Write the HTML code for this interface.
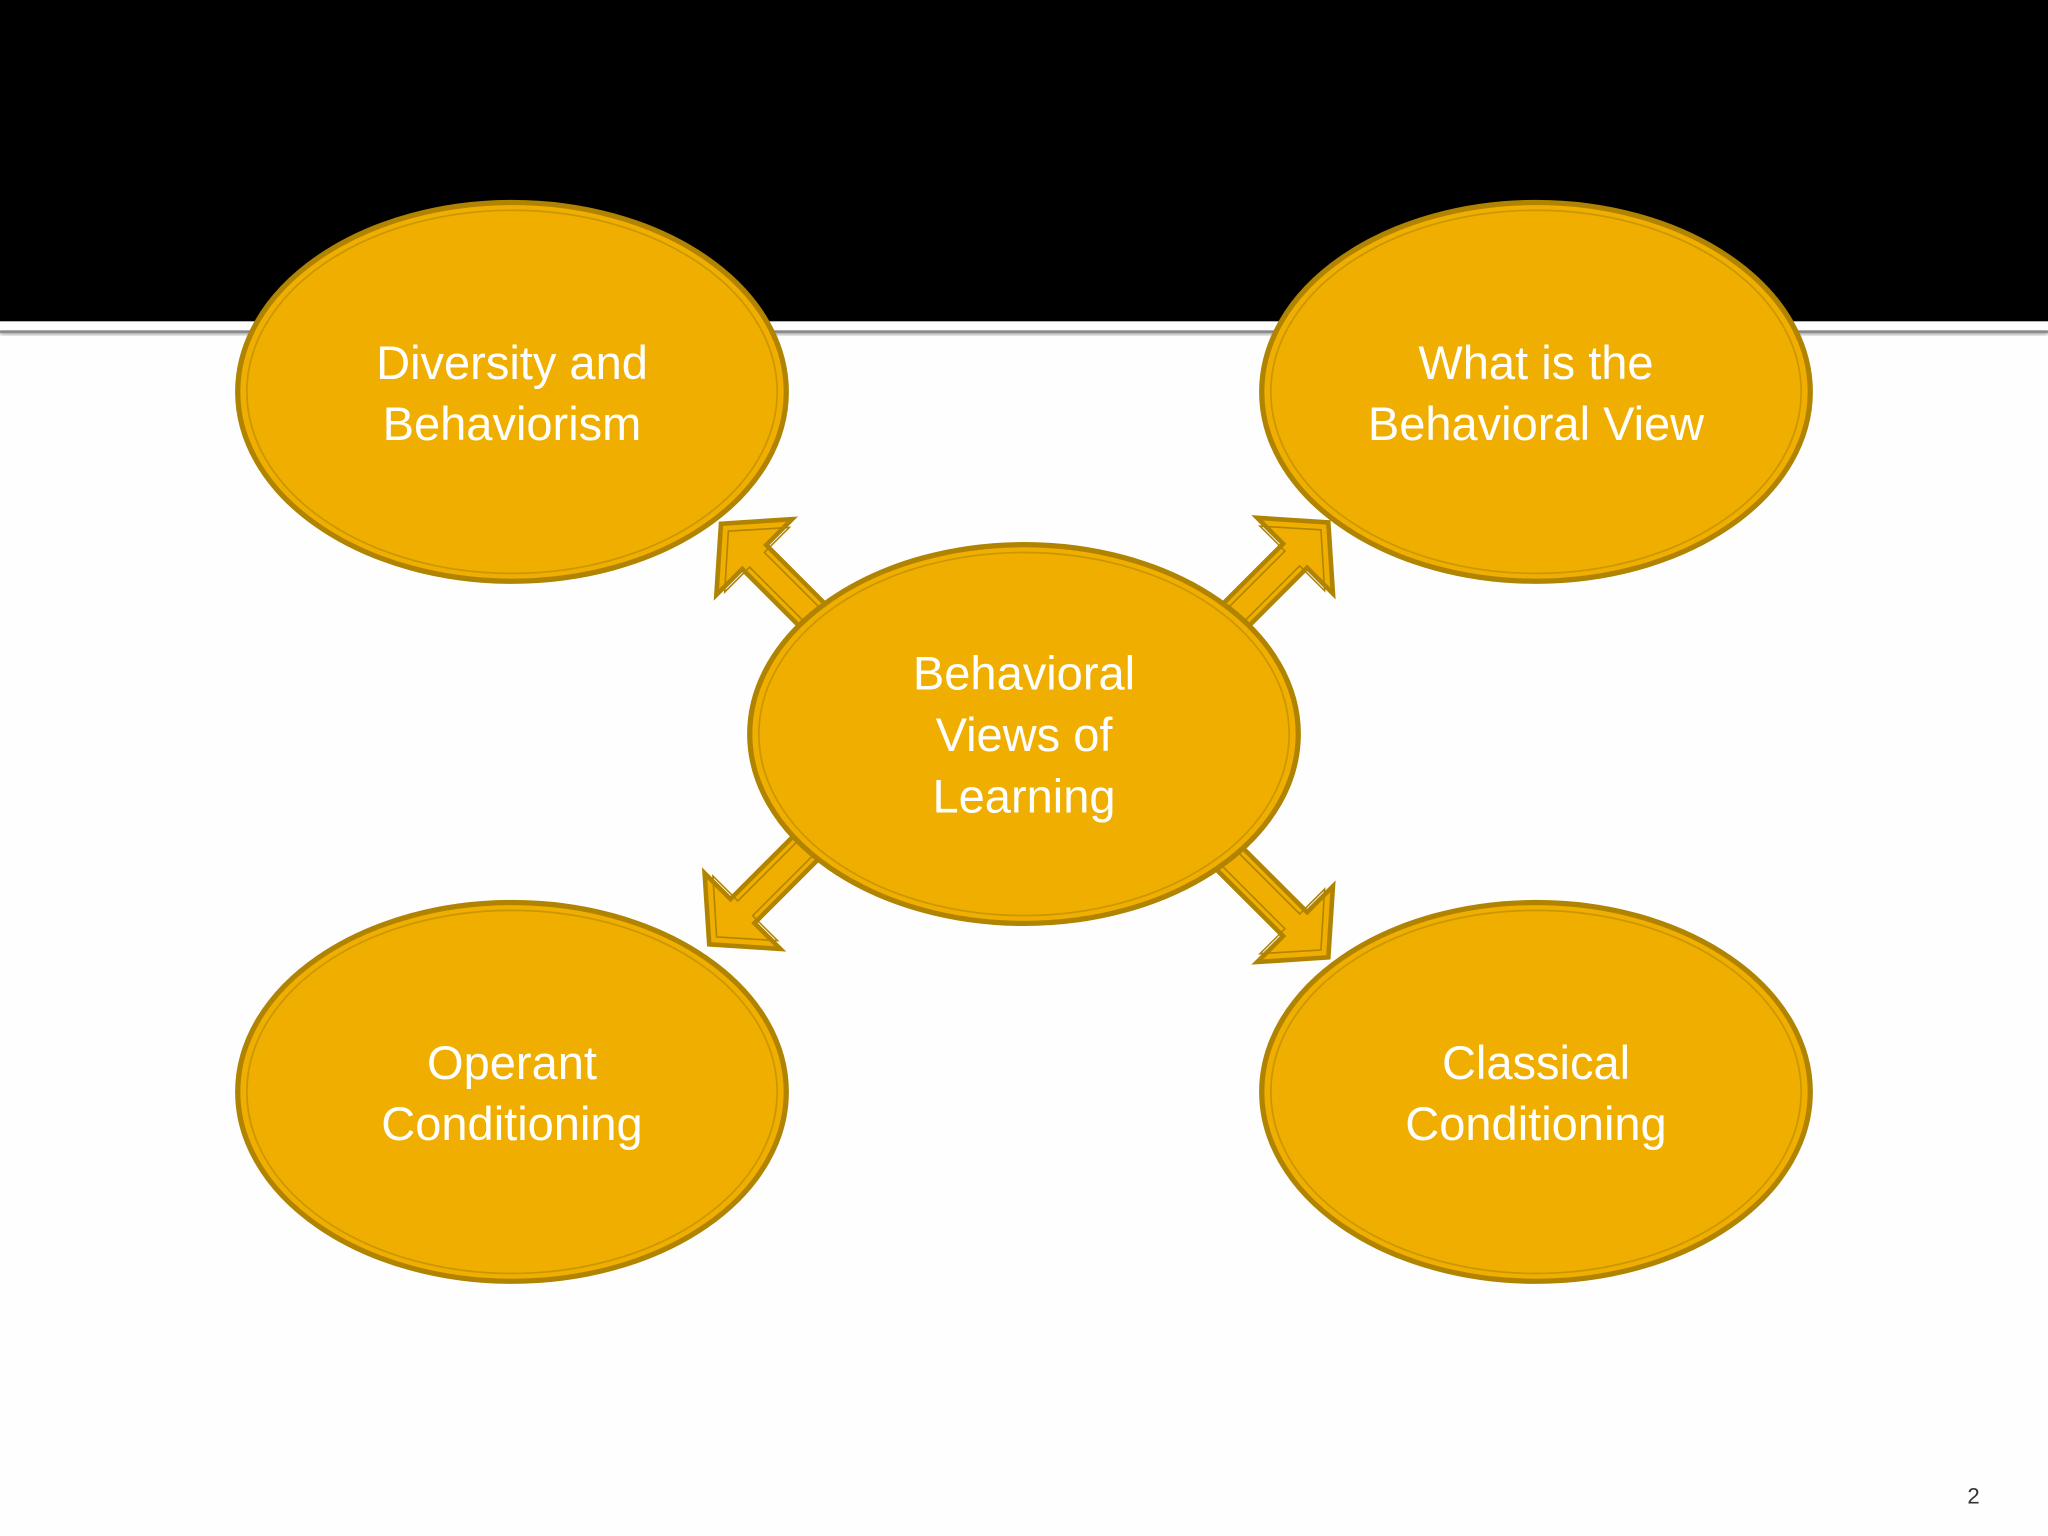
<!DOCTYPE html>
<html><head><meta charset="utf-8"><style>
html,body{margin:0;padding:0;background:#fff;}
svg{display:block;}
text{font-family:"Liberation Sans",sans-serif;fill:#fff;text-anchor:middle;}
</style></head><body>
<svg width="2048" height="1536" viewBox="0 0 1568 1176" xmlns="http://www.w3.org/2000/svg">
<defs>
<filter id="sh" x="-10%" y="-10%" width="120%" height="140%"><feGaussianBlur stdDeviation="1.5"/></filter>
<g id="arr">
<polygon points="0,0 36,41 36,13 130,13 130,-13 36,-13 36,-41" transform="rotate(-45)" fill="#EFAE00" stroke="#B08300" stroke-width="3.5" stroke-linejoin="miter"/>
<polygon points="8,0 39,35 39,8 130,8 130,-8 39,-8 39,-35" transform="rotate(-45)" fill="none" stroke="#B08300" stroke-width="1.2"/>
</g>
<g id="ell">
<ellipse cx="0" cy="0" rx="210" ry="145" fill="#EFAE00" stroke="#B08300" stroke-width="4"/>
<ellipse cx="0" cy="0" rx="203" ry="139" fill="none" stroke="#C99700" stroke-width="1.3"/>
</g>
</defs>
<rect x="0" y="0" width="1568" height="1176" fill="#fefefe"/>
<rect x="0" y="0" width="1568" height="246" fill="#000"/>
<rect x="0" y="253" width="1568" height="3" fill="#999" filter="url(#sh)"/>
<rect x="0" y="253" width="1568" height="2" fill="#8c8c8c"/>

<!-- arrows: local +x (after -45) points ... use transforms -->
<g transform="translate(552,401) rotate(90)"><use href="#arr" transform="rotate(-45) rotate(45) rotate(0)"/></g>

<g transform="translate(1017,400) rotate(180)"><use href="#arr"/></g>
<g transform="translate(543,723) rotate(0)"><use href="#arr"/></g>
<g transform="translate(1017,733) rotate(270)"><use href="#arr"/></g>

<g transform="translate(392,300)"><use href="#ell"/></g>
<g transform="translate(1176,300)"><use href="#ell"/></g>
<g transform="translate(784,562)"><use href="#ell"/></g>
<g transform="translate(392,836)"><use href="#ell"/></g>
<g transform="translate(1176,836)"><use href="#ell"/></g>

<g font-size="36">
<text x="392" y="290">Diversity and</text>
<text x="392" y="337">Behaviorism</text>
<text x="1176" y="290">What is the</text>
<text x="1176" y="337">Behavioral View</text>
<text x="784" y="528">Behavioral</text>
<text x="784" y="575">Views of</text>
<text x="784" y="622">Learning</text>
<text x="392" y="826">Operant</text>
<text x="392" y="873">Conditioning</text>
<text x="1176" y="826">Classical</text>
<text x="1176" y="873">Conditioning</text>
</g>
<text x="1511" y="1151" font-size="17" style="fill:#333">2</text>
</svg>
</body></html>
